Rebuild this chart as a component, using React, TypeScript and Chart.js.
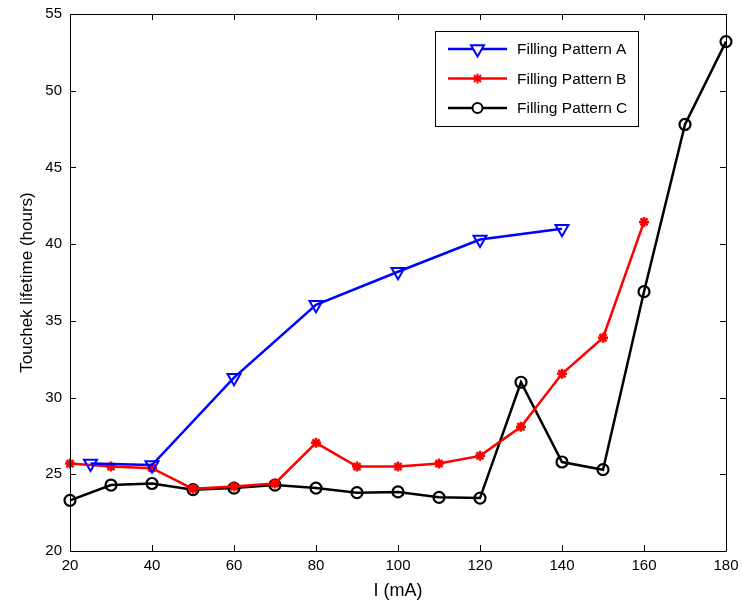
import React, { useEffect, useRef } from "react";
import { Chart, registerables } from "chart.js";
Chart.register(...registerables);

const xTicks = [20, 40, 60, 80, 100, 120, 140, 160, 180];
const yTicks = [20, 25, 30, 35, 40, 45, 50, 55];

const xA = [25, 40, 60, 80, 100, 120, 140];
const yA = [25.7, 25.6, 31.3, 36.05, 38.2, 40.3, 41.0];

const xB = [20, 30, 40, 50, 60, 70, 80, 90, 100, 110, 120, 130, 140, 150, 160];
const yB = [25.7, 25.5, 25.4, 24.05, 24.2, 24.4, 27.05, 25.5, 25.5, 25.7, 26.2, 28.1, 31.55, 33.9, 41.45];

const xC = [20, 30, 40, 50, 60, 70, 80, 90, 100, 110, 120, 130, 140, 150, 160, 170, 180];
const yC = [23.3, 24.3, 24.4, 24.0, 24.1, 24.3, 24.1, 23.8, 23.85, 23.5, 23.45, 31.0, 25.8, 25.3, 36.9, 47.8, 53.2];

const labels = ["Filling Pattern A", "Filling Pattern B", "Filling Pattern C"];
const colors = ["#0000ff", "#ff0000", "#000000"];

const FONT = "'Liberation Sans', Arial, sans-serif";

function pts(xs: number[], ys: number[]) {
  return xs.map((x, i) => ({ x, y: ys[i] }));
}

function drawMarker(ctx: CanvasRenderingContext2D, kind: number, x: number, y: number, color: string) {
  ctx.save();
  ctx.strokeStyle = color;
  ctx.fillStyle = color;
  ctx.lineWidth = 2;
  ctx.beginPath();
  if (kind === 0) {
    const r = 7.5;
    ctx.moveTo(x, y + r);
    ctx.lineTo(x - r * 0.866, y - r * 0.5);
    ctx.lineTo(x + r * 0.866, y - r * 0.5);
    ctx.closePath();
    ctx.fillStyle = "#fff";
    ctx.fill();
    ctx.stroke();
  } else if (kind === 1) {
    const r = 5;
    for (let k = 0; k < 4; k++) {
      const a = (k * Math.PI) / 4;
      ctx.moveTo(x - r * Math.cos(a), y - r * Math.sin(a));
      ctx.lineTo(x + r * Math.cos(a), y + r * Math.sin(a));
    }
    ctx.stroke();
  } else {
    ctx.arc(x, y, 5, 0, Math.PI * 2);
    ctx.fillStyle = "#fff";
    ctx.fill();
    ctx.stroke();
  }
  ctx.restore();
}

const frame = {
  id: "frame",
  afterDatasetsDraw(chart: any) {
    const { ctx, chartArea: a, scales } = chart;
    ctx.save();
    ctx.strokeStyle = "#000";
    ctx.lineWidth = 1;
    ctx.beginPath();
    ctx.rect(Math.round(a.left) + 0.5, Math.round(a.top) + 0.5, Math.round(a.right - a.left), Math.round(a.bottom - a.top));
    const t = 6;
    xTicks.forEach((v) => {
      const p = Math.round(scales.x.getPixelForValue(v)) + 0.5;
      ctx.moveTo(p, a.bottom);
      ctx.lineTo(p, a.bottom - t);
      ctx.moveTo(p, a.top);
      ctx.lineTo(p, a.top + t);
    });
    yTicks.forEach((v) => {
      const p = Math.round(scales.y.getPixelForValue(v)) + 0.5;
      ctx.moveTo(a.left, p);
      ctx.lineTo(a.left + t, p);
      ctx.moveTo(a.right, p);
      ctx.lineTo(a.right - t, p);
    });
    ctx.stroke();

    // legend
    const bx = 435.5, by = 31.5, bw = 203, bh = 95;
    ctx.fillStyle = "#fff";
    ctx.fillRect(bx, by, bw, bh);
    ctx.strokeRect(bx, by, bw, bh);
    const rows = [49, 78.5, 108];
    chart.data.datasets.forEach((ds: any, i: number) => {
      const y = rows[i];
      ctx.strokeStyle = ds.borderColor;
      ctx.lineWidth = 2.5;
      ctx.beginPath();
      ctx.moveTo(448, y);
      ctx.lineTo(507, y);
      ctx.stroke();
      drawMarker(ctx, i, 477.5, y, ds.borderColor);
      ctx.fillStyle = "#000";
      ctx.font = `15.5px ${FONT}`;
      ctx.textBaseline = "middle";
      ctx.textAlign = "left";
      ctx.fillText(ds.label, 517, y + 1);
    });
    ctx.restore();
  },
};

export default function App() {
  const ref = useRef<HTMLCanvasElement>(null);
  useEffect(() => {
    document.body.style.margin = "0";
    const ctx = ref.current!.getContext("2d")!;
    const chart = new Chart(ctx, {
      type: "line",
      data: {
        datasets: [
          {
            label: labels[0],
            data: pts(xA, yA),
            borderColor: colors[0],
            backgroundColor: "#ffffff",
            borderWidth: 2.5,
            pointStyle: "triangle",
            pointRotation: 180,
            pointRadius: 7.5,
            pointBorderWidth: 2,
            pointBackgroundColor: "rgba(255,255,255,0)",
            pointBorderColor: colors[0],
            tension: 0,
            clip: false,
          },
          {
            label: labels[1],
            data: pts(xB, yB),
            borderColor: colors[1],
            backgroundColor: colors[1],
            borderWidth: 2.5,
            pointStyle: "star",
            pointRadius: 5,
            pointBorderWidth: 2.5,
            pointBorderColor: colors[1],
            tension: 0,
            clip: false,
          },
          {
            label: labels[2],
            data: pts(xC, yC),
            borderColor: colors[2],
            backgroundColor: "#ffffff",
            borderWidth: 2.5,
            pointStyle: "circle",
            pointRadius: 5.5,
            pointBorderWidth: 2.2,
            pointBackgroundColor: "rgba(255,255,255,0)",
            pointBorderColor: colors[2],
            tension: 0,
            clip: false,
          },
        ] as any,
      },
      options: {
        responsive: false,
        animation: false,
        layout: { padding: { top: 14, right: 16, left: 0, bottom: 0 } },
        plugins: { legend: { display: false }, tooltip: { enabled: false } },
        scales: {
          x: {
            type: "linear",
            min: 20,
            max: 180,
            afterBuildTicks: (s: any) => { s.ticks = xTicks.map((v) => ({ value: v })); },
            afterFit: (s: any) => { s.height = 53; s.paddingLeft = 0; s.paddingRight = 0; },
            grid: { display: false, drawTicks: false },
            border: { display: false },
            ticks: { color: "#000", font: { size: 15, family: FONT }, padding: 6, maxRotation: 0 },
            title: { display: true, text: "I (mA)", color: "#000", font: { size: 18, family: FONT }, padding: { top: 2, bottom: 2 } },
          },
          y: {
            type: "linear",
            min: 20,
            max: 55,
            afterBuildTicks: (s: any) => { s.ticks = yTicks.map((v) => ({ value: v })); },
            afterFit: (s: any) => { s.width = 70; s.paddingTop = 0; s.paddingBottom = 0; },
            grid: { display: false, drawTicks: false },
            border: { display: false },
            ticks: { color: "#000", font: { size: 15, family: FONT }, padding: 8 },
            title: { display: true, text: "Touchek lifetime (hours)", color: "#000", font: { size: 17, family: FONT }, padding: { top: 17, bottom: 0 } },
          },
        },
      },
      plugins: [frame],
    });
    return () => chart.destroy();
  }, []);
  return <canvas ref={ref} width={742} height={604} style={{ display: "block" }} />;
}
